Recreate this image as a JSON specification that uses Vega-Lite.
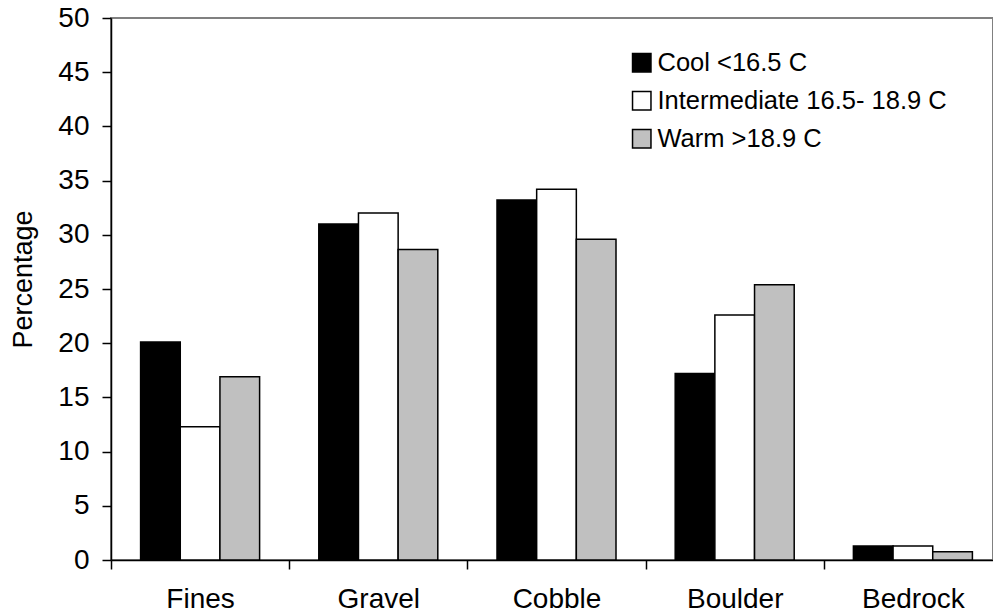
{
  "$schema": "https://vega.github.io/schema/vega-lite/v6.json",
  "autosize": "none",
  "padding": {"left": 111, "top": 18, "right": 0, "bottom": 56},
  "width": 882,
  "height": 542,
  "background": "white",
  "view": {"stroke": "#808080", "strokeWidth": 2},
  "config": {"font": "Liberation Sans"},
  "data": {"values": [
    {"substrate": "Fines", "group": "Cool <16.5 C", "pct": 20.1},
    {"substrate": "Fines", "group": "Intermediate 16.5- 18.9 C", "pct": 12.3},
    {"substrate": "Fines", "group": "Warm >18.9 C", "pct": 16.9},
    {"substrate": "Gravel", "group": "Cool <16.5 C", "pct": 31.0},
    {"substrate": "Gravel", "group": "Intermediate 16.5- 18.9 C", "pct": 32.0},
    {"substrate": "Gravel", "group": "Warm >18.9 C", "pct": 28.65},
    {"substrate": "Cobble", "group": "Cool <16.5 C", "pct": 33.2},
    {"substrate": "Cobble", "group": "Intermediate 16.5- 18.9 C", "pct": 34.2},
    {"substrate": "Cobble", "group": "Warm >18.9 C", "pct": 29.6},
    {"substrate": "Boulder", "group": "Cool <16.5 C", "pct": 17.2},
    {"substrate": "Boulder", "group": "Intermediate 16.5- 18.9 C", "pct": 22.6},
    {"substrate": "Boulder", "group": "Warm >18.9 C", "pct": 25.4},
    {"substrate": "Bedrock", "group": "Cool <16.5 C", "pct": 1.3},
    {"substrate": "Bedrock", "group": "Intermediate 16.5- 18.9 C", "pct": 1.3},
    {"substrate": "Bedrock", "group": "Warm >18.9 C", "pct": 0.75}
  ]},
  "mark": {"type": "bar", "stroke": "black", "strokeWidth": 1.5},
  "encoding": {
    "x": {
      "field": "substrate", "type": "nominal",
      "sort": ["Fines", "Gravel", "Cobble", "Boulder", "Bedrock"],
      "scale": {"range": [0, 891], "paddingInner": 0, "paddingOuter": 0},
      "axis": {
        "title": null, "labelAngle": 0, "tickBand": "extent",
        "domainColor": "black", "domainWidth": 1.5, "tickColor": "black", "tickWidth": 1.5, "tickSize": 9,
        "labelFontSize": 28, "labelColor": "black", "labelPadding": 16
      }
    },
    "xOffset": {
      "field": "group", "type": "nominal",
      "sort": ["Cool <16.5 C", "Intermediate 16.5- 18.9 C", "Warm >18.9 C"],
      "scale": {"paddingInner": 0, "paddingOuter": 0.746}
    },
    "y": {
      "field": "pct", "type": "quantitative",
      "scale": {"domain": [0, 50], "nice": false},
      "axis": {
        "title": "Percentage", "values": [0, 5, 10, 15, 20, 25, 30, 35, 40, 45, 50],
        "grid": false, "domainColor": "black", "domainWidth": 1.5, "tickColor": "black", "tickWidth": 1.5, "tickSize": 9,
        "labelFontSize": 28, "labelColor": "black", "labelPadding": 13,
        "titleFontSize": 27, "titleFontWeight": "normal", "titleColor": "black", "titlePadding": 20, "titleY": 261
      }
    },
    "fill": {
      "field": "group", "type": "nominal",
      "sort": ["Cool <16.5 C", "Intermediate 16.5- 18.9 C", "Warm >18.9 C"],
      "scale": {"domain": ["Cool <16.5 C", "Intermediate 16.5- 18.9 C", "Warm >18.9 C"], "range": ["#000000", "#ffffff", "#c0c0c0"]},
      "legend": {
        "title": null, "orient": "none", "legendX": 518, "legendY": 32,
        "symbolType": "square", "symbolSize": 340, "symbolStrokeColor": "black", "symbolStrokeWidth": 1.5,
        "symbolOpacity": 1,
        "labelFontSize": 25.5, "labelColor": "black", "labelOffset": 3, "rowPadding": 11,
        "labelLimit": 400
      }
    }
  }
}
